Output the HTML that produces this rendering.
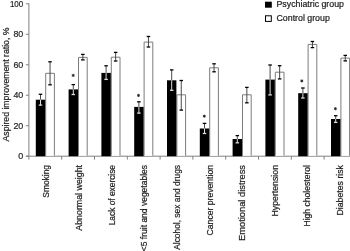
<!DOCTYPE html>
<html><head><meta charset="utf-8"><style>
html,body{margin:0;padding:0;background:#fff;}
body{width:350px;height:251px;overflow:hidden;}
svg{display:block;filter:grayscale(1);}
text{font-family:"Liberation Sans",sans-serif;fill:#1e1e1e;stroke:#1e1e1e;stroke-width:0.22px;}
.yt{font-size:9.8px;}
.xl{font-size:9px;}
.yl{font-size:9px;}
.lg{font-size:8.8px;}
</style></head><body>
<svg width="350" height="251" viewBox="0 0 350 251">
<line x1="28.90" y1="3.30" x2="28.90" y2="156.20" stroke="#808080" stroke-width="1"/>
<line x1="25.90" y1="156.20" x2="28.90" y2="156.20" stroke="#808080" stroke-width="1"/>
<text x="23.3" y="159.10" class="yt" text-anchor="end" textLength="5.00" lengthAdjust="spacingAndGlyphs">0</text>
<line x1="25.90" y1="125.72" x2="28.90" y2="125.72" stroke="#808080" stroke-width="1"/>
<text x="23.3" y="128.62" class="yt" text-anchor="end" textLength="9.90" lengthAdjust="spacingAndGlyphs">20</text>
<line x1="25.90" y1="95.24" x2="28.90" y2="95.24" stroke="#808080" stroke-width="1"/>
<text x="23.3" y="98.14" class="yt" text-anchor="end" textLength="9.90" lengthAdjust="spacingAndGlyphs">40</text>
<line x1="25.90" y1="64.76" x2="28.90" y2="64.76" stroke="#808080" stroke-width="1"/>
<text x="23.3" y="67.66" class="yt" text-anchor="end" textLength="9.90" lengthAdjust="spacingAndGlyphs">60</text>
<line x1="25.90" y1="34.28" x2="28.90" y2="34.28" stroke="#808080" stroke-width="1"/>
<text x="23.3" y="37.18" class="yt" text-anchor="end" textLength="9.90" lengthAdjust="spacingAndGlyphs">80</text>
<line x1="25.90" y1="3.80" x2="28.90" y2="3.80" stroke="#808080" stroke-width="1"/>
<text x="23.3" y="6.70" class="yt" text-anchor="end" textLength="13.40" lengthAdjust="spacingAndGlyphs">100</text>
<line x1="25.90" y1="156.20" x2="350" y2="156.20" stroke="#808080" stroke-width="1"/>
<line x1="28.90" y1="156.20" x2="28.90" y2="159.60" stroke="#808080" stroke-width="1"/>
<line x1="61.70" y1="156.20" x2="61.70" y2="159.60" stroke="#808080" stroke-width="1"/>
<line x1="94.50" y1="156.20" x2="94.50" y2="159.60" stroke="#808080" stroke-width="1"/>
<line x1="127.30" y1="156.20" x2="127.30" y2="159.60" stroke="#808080" stroke-width="1"/>
<line x1="160.10" y1="156.20" x2="160.10" y2="159.60" stroke="#808080" stroke-width="1"/>
<line x1="192.90" y1="156.20" x2="192.90" y2="159.60" stroke="#808080" stroke-width="1"/>
<line x1="225.70" y1="156.20" x2="225.70" y2="159.60" stroke="#808080" stroke-width="1"/>
<line x1="258.50" y1="156.20" x2="258.50" y2="159.60" stroke="#808080" stroke-width="1"/>
<line x1="291.30" y1="156.20" x2="291.30" y2="159.60" stroke="#808080" stroke-width="1"/>
<line x1="324.10" y1="156.20" x2="324.10" y2="159.60" stroke="#808080" stroke-width="1"/>
<line x1="356.90" y1="156.20" x2="356.90" y2="159.60" stroke="#808080" stroke-width="1"/>
<path d="M45.70 155.70V73.30H54.40V155.70" fill="#fff" stroke="#7c7c7c" stroke-width="1.00"/>
<rect x="35.80" y="99.70" width="9.40" height="56.50" fill="#000"/>
<line x1="40.50" y1="94.30" x2="40.50" y2="99.70" stroke="#4a4a4a" stroke-width="1"/>
<line x1="40.50" y1="99.70" x2="40.50" y2="105.10" stroke="#ddd" stroke-width="1"/>
<line x1="38.75" y1="94.30" x2="42.25" y2="94.30" stroke="#000" stroke-width="1.3"/>
<line x1="38.75" y1="105.10" x2="42.25" y2="105.10" stroke="#ddd" stroke-width="1.3"/>
<line x1="50.05" y1="61.80" x2="50.05" y2="84.80" stroke="#4a4a4a" stroke-width="1"/>
<line x1="48.30" y1="61.80" x2="51.80" y2="61.80" stroke="#000" stroke-width="1.3"/>
<line x1="48.30" y1="84.80" x2="51.80" y2="84.80" stroke="#000" stroke-width="1.3"/>
<text transform="translate(49.40,165.00) rotate(-90)" class="xl" text-anchor="end" textLength="32.70" lengthAdjust="spacingAndGlyphs">Smoking</text>
<path d="M78.50 155.70V57.40H87.20V155.70" fill="#fff" stroke="#7c7c7c" stroke-width="1.00"/>
<rect x="68.60" y="89.40" width="9.40" height="66.80" fill="#000"/>
<line x1="73.30" y1="84.60" x2="73.30" y2="89.40" stroke="#4a4a4a" stroke-width="1"/>
<line x1="73.30" y1="89.40" x2="73.30" y2="94.50" stroke="#ddd" stroke-width="1"/>
<line x1="71.55" y1="84.60" x2="75.05" y2="84.60" stroke="#000" stroke-width="1.3"/>
<line x1="71.55" y1="94.50" x2="75.05" y2="94.50" stroke="#ddd" stroke-width="1.3"/>
<line x1="82.85" y1="54.40" x2="82.85" y2="59.90" stroke="#4a4a4a" stroke-width="1"/>
<line x1="81.10" y1="54.40" x2="84.60" y2="54.40" stroke="#000" stroke-width="1.3"/>
<line x1="81.10" y1="59.90" x2="84.60" y2="59.90" stroke="#000" stroke-width="1.3"/>
<circle cx="73.20" cy="75.40" r="0.9" fill="#222"/>
<path d="M73.20 73.80V77.00M71.75 74.60L74.65 76.20M71.75 76.20L74.65 74.60" stroke="#222" stroke-width="0.8" fill="none"/>
<text transform="translate(82.02,165.00) rotate(-90)" class="xl" text-anchor="end" textLength="65.70" lengthAdjust="spacingAndGlyphs">Abnormal weight</text>
<path d="M111.30 155.70V57.20H120.00V155.70" fill="#fff" stroke="#7c7c7c" stroke-width="1.00"/>
<rect x="101.40" y="72.90" width="9.40" height="83.30" fill="#000"/>
<line x1="106.10" y1="65.80" x2="106.10" y2="72.90" stroke="#4a4a4a" stroke-width="1"/>
<line x1="106.10" y1="72.90" x2="106.10" y2="79.40" stroke="#ddd" stroke-width="1"/>
<line x1="104.35" y1="65.80" x2="107.85" y2="65.80" stroke="#000" stroke-width="1.3"/>
<line x1="104.35" y1="79.40" x2="107.85" y2="79.40" stroke="#ddd" stroke-width="1.3"/>
<line x1="115.65" y1="52.40" x2="115.65" y2="61.00" stroke="#4a4a4a" stroke-width="1"/>
<line x1="113.90" y1="52.40" x2="117.40" y2="52.40" stroke="#000" stroke-width="1.3"/>
<line x1="113.90" y1="61.00" x2="117.40" y2="61.00" stroke="#000" stroke-width="1.3"/>
<text transform="translate(114.64,165.00) rotate(-90)" class="xl" text-anchor="end" textLength="60.30" lengthAdjust="spacingAndGlyphs">Lack of exercise</text>
<path d="M144.10 155.70V42.10H152.80V155.70" fill="#fff" stroke="#7c7c7c" stroke-width="1.00"/>
<rect x="134.20" y="106.90" width="9.40" height="49.30" fill="#000"/>
<line x1="138.90" y1="101.80" x2="138.90" y2="106.90" stroke="#4a4a4a" stroke-width="1"/>
<line x1="138.90" y1="106.90" x2="138.90" y2="113.10" stroke="#ddd" stroke-width="1"/>
<line x1="137.15" y1="101.80" x2="140.65" y2="101.80" stroke="#000" stroke-width="1.3"/>
<line x1="137.15" y1="113.10" x2="140.65" y2="113.10" stroke="#ddd" stroke-width="1.3"/>
<line x1="148.45" y1="36.50" x2="148.45" y2="47.00" stroke="#4a4a4a" stroke-width="1"/>
<line x1="146.70" y1="36.50" x2="150.20" y2="36.50" stroke="#000" stroke-width="1.3"/>
<line x1="146.70" y1="47.00" x2="150.20" y2="47.00" stroke="#000" stroke-width="1.3"/>
<circle cx="138.50" cy="95.40" r="0.9" fill="#222"/>
<path d="M138.50 93.80V97.00M137.05 94.60L139.95 96.20M137.05 96.20L139.95 94.60" stroke="#222" stroke-width="0.8" fill="none"/>
<text transform="translate(147.26,165.00) rotate(-90)" class="xl" text-anchor="end" textLength="86.20" lengthAdjust="spacingAndGlyphs">&lt;5 fruit and vegetables</text>
<path d="M176.90 155.70V94.80H185.60V155.70" fill="#fff" stroke="#7c7c7c" stroke-width="1.00"/>
<rect x="167.00" y="80.30" width="9.40" height="75.90" fill="#000"/>
<line x1="171.70" y1="69.90" x2="171.70" y2="80.30" stroke="#4a4a4a" stroke-width="1"/>
<line x1="171.70" y1="80.30" x2="171.70" y2="90.30" stroke="#ddd" stroke-width="1"/>
<line x1="169.95" y1="69.90" x2="173.45" y2="69.90" stroke="#000" stroke-width="1.3"/>
<line x1="169.95" y1="90.30" x2="173.45" y2="90.30" stroke="#ddd" stroke-width="1.3"/>
<line x1="181.25" y1="80.50" x2="181.25" y2="110.10" stroke="#4a4a4a" stroke-width="1"/>
<line x1="179.50" y1="80.50" x2="183.00" y2="80.50" stroke="#000" stroke-width="1.3"/>
<line x1="179.50" y1="110.10" x2="183.00" y2="110.10" stroke="#000" stroke-width="1.3"/>
<text transform="translate(179.88,165.00) rotate(-90)" class="xl" text-anchor="end" textLength="84.80" lengthAdjust="spacingAndGlyphs">Alcohol, sex and drugs</text>
<path d="M209.70 155.70V67.80H218.40V155.70" fill="#fff" stroke="#7c7c7c" stroke-width="1.00"/>
<rect x="199.80" y="128.50" width="9.40" height="27.70" fill="#000"/>
<line x1="204.50" y1="123.40" x2="204.50" y2="128.50" stroke="#4a4a4a" stroke-width="1"/>
<line x1="204.50" y1="128.50" x2="204.50" y2="133.50" stroke="#ddd" stroke-width="1"/>
<line x1="202.75" y1="123.40" x2="206.25" y2="123.40" stroke="#000" stroke-width="1.3"/>
<line x1="202.75" y1="133.50" x2="206.25" y2="133.50" stroke="#ddd" stroke-width="1.3"/>
<line x1="214.05" y1="63.80" x2="214.05" y2="71.80" stroke="#4a4a4a" stroke-width="1"/>
<line x1="212.30" y1="63.80" x2="215.80" y2="63.80" stroke="#000" stroke-width="1.3"/>
<line x1="212.30" y1="71.80" x2="215.80" y2="71.80" stroke="#000" stroke-width="1.3"/>
<circle cx="204.30" cy="116.20" r="0.9" fill="#222"/>
<path d="M204.30 114.60V117.80M202.85 115.40L205.75 117.00M202.85 117.00L205.75 115.40" stroke="#222" stroke-width="0.8" fill="none"/>
<text transform="translate(212.50,165.00) rotate(-90)" class="xl" text-anchor="end" textLength="70.40" lengthAdjust="spacingAndGlyphs">Cancer prevention</text>
<path d="M242.50 155.70V94.80H251.20V155.70" fill="#fff" stroke="#7c7c7c" stroke-width="1.00"/>
<rect x="232.60" y="139.00" width="9.40" height="17.20" fill="#000"/>
<line x1="237.30" y1="135.60" x2="237.30" y2="139.00" stroke="#4a4a4a" stroke-width="1"/>
<line x1="237.30" y1="139.00" x2="237.30" y2="142.80" stroke="#ddd" stroke-width="1"/>
<line x1="235.55" y1="135.60" x2="239.05" y2="135.60" stroke="#000" stroke-width="1.3"/>
<line x1="235.55" y1="142.80" x2="239.05" y2="142.80" stroke="#ddd" stroke-width="1.3"/>
<line x1="246.85" y1="87.40" x2="246.85" y2="102.80" stroke="#4a4a4a" stroke-width="1"/>
<line x1="245.10" y1="87.40" x2="248.60" y2="87.40" stroke="#000" stroke-width="1.3"/>
<line x1="245.10" y1="102.80" x2="248.60" y2="102.80" stroke="#000" stroke-width="1.3"/>
<text transform="translate(245.12,165.00) rotate(-90)" class="xl" text-anchor="end" textLength="75.90" lengthAdjust="spacingAndGlyphs">Emotional distress</text>
<path d="M275.30 155.70V72.20H284.00V155.70" fill="#fff" stroke="#7c7c7c" stroke-width="1.00"/>
<rect x="265.40" y="79.60" width="9.40" height="76.60" fill="#000"/>
<line x1="270.10" y1="65.00" x2="270.10" y2="79.60" stroke="#4a4a4a" stroke-width="1"/>
<line x1="270.10" y1="79.60" x2="270.10" y2="94.90" stroke="#ddd" stroke-width="1"/>
<line x1="268.35" y1="65.00" x2="271.85" y2="65.00" stroke="#000" stroke-width="1.3"/>
<line x1="268.35" y1="94.90" x2="271.85" y2="94.90" stroke="#ddd" stroke-width="1.3"/>
<line x1="279.65" y1="65.70" x2="279.65" y2="78.90" stroke="#4a4a4a" stroke-width="1"/>
<line x1="277.90" y1="65.70" x2="281.40" y2="65.70" stroke="#000" stroke-width="1.3"/>
<line x1="277.90" y1="78.90" x2="281.40" y2="78.90" stroke="#000" stroke-width="1.3"/>
<text transform="translate(277.74,165.00) rotate(-90)" class="xl" text-anchor="end" textLength="51.50" lengthAdjust="spacingAndGlyphs">Hypertension</text>
<path d="M308.10 155.70V44.40H316.80V155.70" fill="#fff" stroke="#7c7c7c" stroke-width="1.00"/>
<rect x="298.20" y="93.20" width="9.40" height="63.00" fill="#000"/>
<line x1="302.90" y1="88.00" x2="302.90" y2="93.20" stroke="#4a4a4a" stroke-width="1"/>
<line x1="302.90" y1="93.20" x2="302.90" y2="98.00" stroke="#ddd" stroke-width="1"/>
<line x1="301.15" y1="88.00" x2="304.65" y2="88.00" stroke="#000" stroke-width="1.3"/>
<line x1="301.15" y1="98.00" x2="304.65" y2="98.00" stroke="#ddd" stroke-width="1.3"/>
<line x1="312.45" y1="41.50" x2="312.45" y2="47.60" stroke="#4a4a4a" stroke-width="1"/>
<line x1="310.70" y1="41.50" x2="314.20" y2="41.50" stroke="#000" stroke-width="1.3"/>
<line x1="310.70" y1="47.60" x2="314.20" y2="47.60" stroke="#000" stroke-width="1.3"/>
<circle cx="301.80" cy="80.90" r="0.9" fill="#222"/>
<path d="M301.80 79.30V82.50M300.35 80.10L303.25 81.70M300.35 81.70L303.25 80.10" stroke="#222" stroke-width="0.8" fill="none"/>
<text transform="translate(310.36,165.00) rotate(-90)" class="xl" text-anchor="end" textLength="61.50" lengthAdjust="spacingAndGlyphs">High cholesterol</text>
<path d="M340.90 155.70V58.10H349.60V155.70" fill="#fff" stroke="#7c7c7c" stroke-width="1.00"/>
<rect x="331.00" y="119.00" width="9.40" height="37.20" fill="#000"/>
<line x1="335.70" y1="115.70" x2="335.70" y2="119.00" stroke="#4a4a4a" stroke-width="1"/>
<line x1="335.70" y1="119.00" x2="335.70" y2="122.40" stroke="#ddd" stroke-width="1"/>
<line x1="333.95" y1="115.70" x2="337.45" y2="115.70" stroke="#000" stroke-width="1.3"/>
<line x1="333.95" y1="122.40" x2="337.45" y2="122.40" stroke="#ddd" stroke-width="1.3"/>
<line x1="345.25" y1="55.40" x2="345.25" y2="60.90" stroke="#4a4a4a" stroke-width="1"/>
<line x1="343.50" y1="55.40" x2="347.00" y2="55.40" stroke="#000" stroke-width="1.3"/>
<line x1="343.50" y1="60.90" x2="347.00" y2="60.90" stroke="#000" stroke-width="1.3"/>
<circle cx="335.40" cy="108.70" r="0.9" fill="#222"/>
<path d="M335.40 107.10V110.30M333.95 107.90L336.85 109.50M333.95 109.50L336.85 107.90" stroke="#222" stroke-width="0.8" fill="none"/>
<text transform="translate(342.98,165.00) rotate(-90)" class="xl" text-anchor="end" textLength="50.50" lengthAdjust="spacingAndGlyphs">Diabetes risk</text>
<text transform="translate(9.40,141.50) rotate(-90)" class="yl" textLength="114.00" lengthAdjust="spacingAndGlyphs">Aspired improvement ratio, %</text>
<rect x="265" y="1.7" width="6.8" height="6" fill="#000"/>
<text x="276.5" y="7" class="lg">Psychiatric group</text>
<rect x="265.5" y="15.8" width="5.8" height="5.6" fill="#fff" stroke="#000" stroke-width="1"/>
<text x="276.5" y="21.1" class="lg">Control group</text>
</svg>
</body></html>
